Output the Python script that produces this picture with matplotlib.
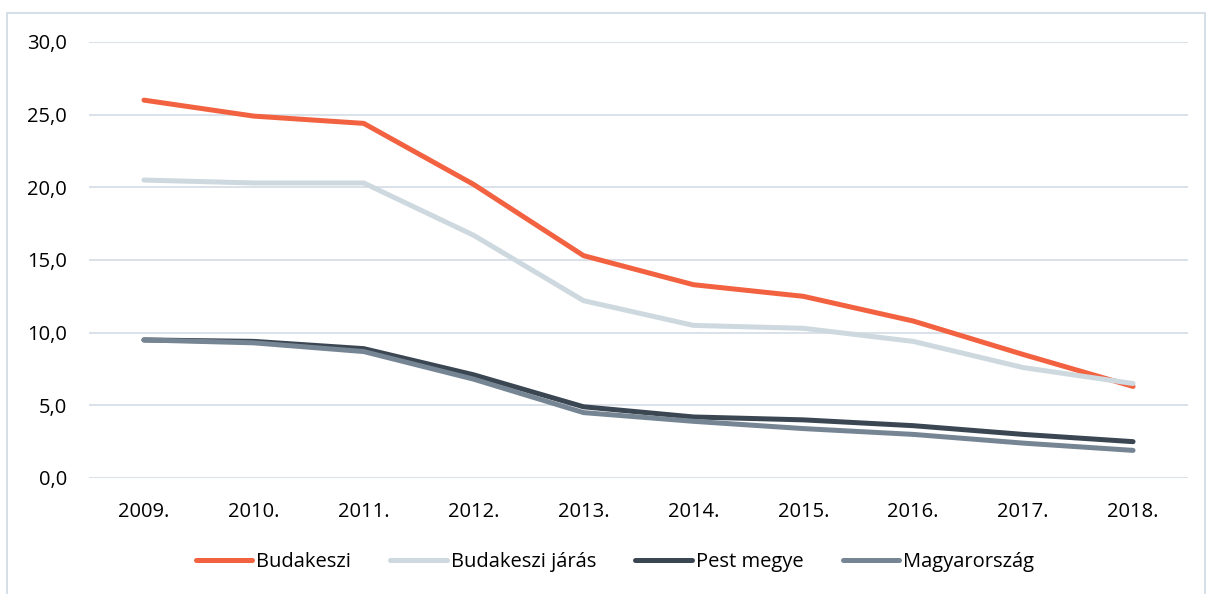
import matplotlib.pyplot as plt
from matplotlib.patches import Rectangle

years = ["2009.", "2010.", "2011.", "2012.", "2013.", "2014.", "2015.", "2016.", "2017.", "2018."]
budakeszi = [26.0, 24.9, 24.4, 20.2, 15.3, 13.3, 12.5, 10.8, 8.5, 6.3]
jaras = [20.5, 20.3, 20.3, 16.7, 12.2, 10.5, 10.3, 9.4, 7.6, 6.5]
pest = [9.5, 9.4, 8.9, 7.1, 4.9, 4.2, 4.0, 3.6, 3.0, 2.5]
magyar = [9.5, 9.3, 8.7, 6.8, 4.5, 3.9, 3.4, 3.0, 2.4, 1.9]

plt.rcParams['font.family'] = ['Open Sans', 'DejaVu Sans']

fig = plt.figure(figsize=(12.13, 5.94), dpi=100)
ax = fig.add_axes([89 / 1213, 1 - 478 / 594, 1099 / 1213, 436 / 594])

xs = range(len(years))
ax.plot(xs, budakeszi, color="#F26241", lw=3.6, solid_capstyle="round", label="Budakeszi")
ax.plot(xs, jaras, color="#CDD8DF", lw=3.6, solid_capstyle="round", label="Budakeszi járás")
ax.plot(xs, pest, color="#3A4652", lw=3.6, solid_capstyle="round", label="Pest megye")
ax.plot(xs, magyar, color="#768593", lw=3.6, solid_capstyle="round", label="Magyarország")

ax.set_xlim(-0.5, 9.5)
ax.set_ylim(0, 30)
ax.set_yticks([0, 5, 10, 15, 20, 25, 30])
ax.set_yticklabels([f"{v:.1f}".replace(".", ",") for v in [0, 5, 10, 15, 20, 25, 30]])
ax.set_xticks(list(xs))
ax.set_xticklabels(years)
ax.tick_params(length=0, labelsize=14.5, colors="#000000")
ax.tick_params(axis="x", pad=17)
ax.tick_params(axis="y", pad=16)
ax.grid(axis="y", color="#D3DCE5", lw=1.2)
ax.set_axisbelow(True)
for s in ax.spines.values():
    s.set_visible(False)

ax.legend(loc="center", bbox_to_anchor=((615 - 89) / 1099, -(562 - 478) / 436), ncol=4, frameon=False,
          fontsize=14.5, handlelength=2.8, handletextpad=0.2, columnspacing=1.95)

fig.patches.append(Rectangle((7 / 1213, -0.05), 1198 / 1213, 1.05 - 13 / 594, transform=fig.transFigure,
                             fill=False, edgecolor="#D0D9E2", lw=1.2))

fig.savefig("out.png", dpi=100)
